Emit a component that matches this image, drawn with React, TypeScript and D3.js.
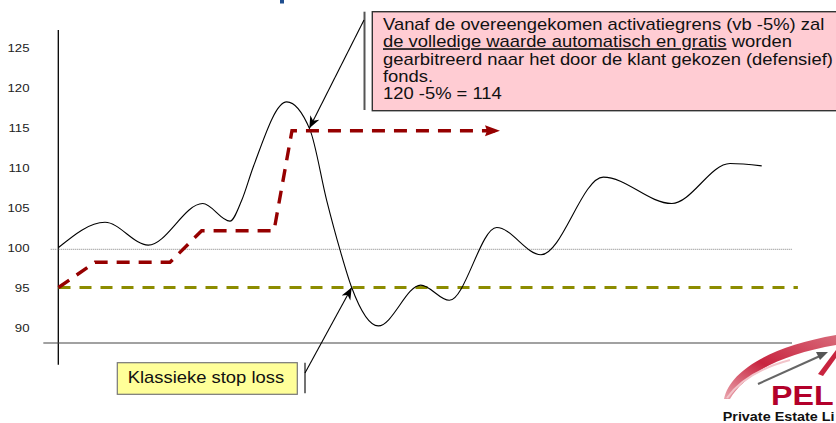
import React from "react";
import * as d3 from "d3";

// ---- data (x: time units 0..100, y: index value) ----
const yTicks = [90, 95, 100, 105, 110, 115, 120, 125];
const priceT = [0, 6.34, 12.24, 19.66, 23.38, 24.98, 26.56, 31.11, 34.29, 36.56, 38.38, 39.97, 43.6, 49.38, 53.28, 59.74, 65.78, 74.27, 83.6, 91.55, 95.87];
const priceV = [100, 103.15, 100.3, 105.5, 103.3, 105.9, 110.1, 118.2, 114.7, 105.9, 99.7, 95.0, 90.2, 95.3, 93.4, 102.5, 99.1, 108.8, 105.5, 110.5, 110.2];
const trailT = [0, 4.98, 15.2, 19.52, 29.38, 31.83, 60.19];
const trailV = [95, 98.15, 98.15, 102.1, 102.1, 114.6, 114.6];
const stopLossLevel = 95;
const referenceLevel = 100;
const boxLines = [
  "Vanaf de overeengekomen activatiegrens (vb -5%) zal",
  "de volledige waarde automatisch en gratis| worden",
  "gearbitreerd naar het door de klant gekozen (defensief)",
  "fonds.",
  "120 -5% = 114",
];
const yellowLabel = "Klassieke stop loss";

const W = 836;
const H = 423;
const FONT = "'Liberation Sans', Arial, sans-serif";
const SX = 1.15;

export default function App() {
  const x = d3.scaleLinear().domain([0, 100]).range([58.5, 792]);
  const y = d3.scaleLinear().domain([90, 125]).range([327.5, 47.5]);

  const priceLine = d3
    .line<number>()
    .x((_, i) => x(priceT[i]))
    .y((v) => y(v))
    .curve(d3.curveMonotoneX);
  const trailLine = d3
    .line<number>()
    .x((_, i) => x(trailT[i]))
    .y((v) => y(v));

  const axisX = x(0) - 0.2;
  const baseY = y(88.06);

  return (
    <svg
      width={W}
      height={H}
      style={{ position: "absolute", left: 0, top: 0, background: "#fff" }}
      fontFamily={FONT}
    >
      <defs>
        <marker id="blk" markerUnits="userSpaceOnUse" markerWidth="14" markerHeight="12" refX="12" refY="5" orient="auto">
          <path d="M0,0 L12,5 L0,10 L3.5,5 Z" fill="#000" />
        </marker>
        <marker id="red" markerUnits="userSpaceOnUse" markerWidth="16" markerHeight="12" refX="15" refY="5.5" orient="auto">
          <path d="M0,0 L15,5.5 L0,11 L2,5.5 Z" fill="#960000" />
        </marker>
        <linearGradient id="swoosh" x1="0" y1="1" x2="1" y2="0">
          <stop offset="0" stopColor="#e9a4ad" />
          <stop offset="0.45" stopColor="#c8243f" />
          <stop offset="1" stopColor="#d86a7a" />
        </linearGradient>
      </defs>

      {/* title fragment */}
      <rect x={280} y={0} width={4} height={3.5} fill="#1f4f8f" />

      {/* y tick labels */}
      {yTicks.map((t) => (
        <g key={t} transform={`translate(29.5,${y(t)}) scale(${SX},1)`}>
          <text x={0} y={0} dy="0.35em" textAnchor="end" fontSize={11.5} fill="#222">
            {t}
          </text>
        </g>
      ))}

      {/* axes */}
      <line x1={axisX} x2={axisX} y1={y(127.2)} y2={y(85.35)} stroke="#000" strokeWidth={1.3} />
      <line x1={x(-2.07)} x2={x(100)} y1={baseY} y2={baseY} stroke="#444" strokeWidth={1.2} />

      {/* reference 100 dotted */}
      <line
        x1={x(-1.06)}
        x2={x(100.1)}
        y1={y(referenceLevel) + 1.8}
        y2={y(referenceLevel) + 1.8}
        stroke="#999"
        strokeWidth={1.3}
        strokeDasharray="1 1"
      />

      {/* classic stop loss */}
      <line
        x1={x(0)}
        x2={x(100.8)}
        y1={y(stopLossLevel)}
        y2={y(stopLossLevel)}
        stroke="#8c8c00"
        strokeWidth={3.2}
        strokeDasharray="12 9"
      />

      {/* price curve */}
      <path d={priceLine(priceV) || ""} fill="none" stroke="#000" strokeWidth={1.1} />

      {/* trailing stop */}
      <path
        d={trailLine(trailV) || ""}
        fill="none"
        stroke="#960000"
        strokeWidth={3.4}
        strokeDasharray="13 9"
        markerEnd="url(#red)"
      />

      {/* pink annotation */}
      <line x1={364.5} x2={364.5} y1={11.7} y2={110} stroke="#555" strokeWidth={2} />
      <rect x={372.3} y={11.7} width={520} height={99} fill="#ffccd3" stroke="#333" strokeWidth={1.4} />
      <g transform={`translate(383,0) scale(${SX},1)`}>
        {boxLines.map((ln, i) => {
          const yy = 30 + i * 17.3;
          if (ln.includes("|")) {
            const [a, b] = ln.split("|");
            return (
              <text key={i} x={0} y={yy} fontSize={16} fill="#111">
                <tspan textDecoration="underline" style={{ textDecoration: "underline" }}>
                  {a}
                </tspan>
                <tspan>{b}</tspan>
              </text>
            );
          }
          return (
            <text key={i} x={0} y={yy} fontSize={16} fill="#111">
              {ln}
            </text>
          );
        })}
      </g>
      <line x1={364} y1={20} x2={x(34.2)} y2={y(114.9)} stroke="#000" strokeWidth={1.1} markerEnd="url(#blk)" />

      {/* yellow annotation */}
      <rect x={117.3} y={362.7} width={180} height={31.6} fill="#ffff99" stroke="#777" strokeWidth={1.2} />
      <g transform={`translate(127.7,383.3) scale(${SX},1)`}>
        <text x={0} y={0} fontSize={16} fill="#111">
          {yellowLabel}
        </text>
      </g>
      <line x1={305} x2={305} y1={362.7} y2={393.3} stroke="#444" strokeWidth={1.5} />
      <line x1={305} y1={373} x2={x(39.97)} y2={y(stopLossLevel)} stroke="#000" strokeWidth={1.1} markerEnd="url(#blk)" />

      {/* logo */}
      <g>
        <path
          d="M 724 399 C 730 370, 772 346, 836 335 L 836 345 C 782 354, 744 374, 730 399 Z"
          fill="url(#swoosh)"
        />
        <path d="M 727 398 C 740 380, 760 368, 790 360" fill="none" stroke="#f2c4ca" strokeWidth={2} />
        <path d="M 818 374 L 836 350 L 836 358 L 823 376 Z" fill="#c8243f" />
        <path d="M 758 384 L 820 356" stroke="#666" strokeWidth={2} />
        <path d="M 828 352 L 816 352 L 820 360 Z" fill="#555" />
        <g transform={`translate(771,405) scale(${SX},1)`}>
          <text x={0} y={0} fontSize={28} fontWeight="bold" fill="#b3002a">
            PEL
          </text>
        </g>
        <g transform={`translate(722.7,420.7) scale(${SX},1)`}>
          <text x={0} y={0} fontSize={12.5} fontWeight="bold" fill="#111">
            Private Estate Li
          </text>
        </g>
      </g>
    </svg>
  );
}
